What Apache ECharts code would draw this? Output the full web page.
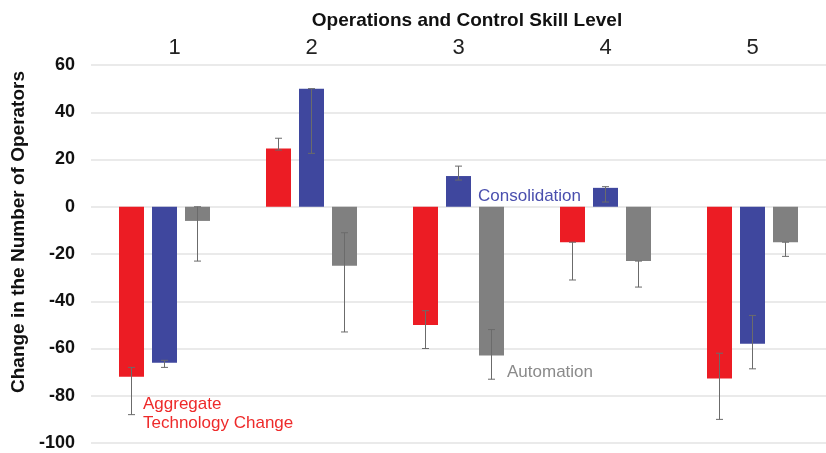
<!DOCTYPE html>
<html>
<head>
<meta charset="utf-8">
<script src="https://cdn.jsdelivr.net/npm/echarts@6/dist/echarts.min.js"></script>
<style>
  html, body { margin: 0; padding: 0; background: #fff; }
  #chart { width: 826px; height: 453px; }
</style>
</head>
<body>
<div id="chart"></div>
<script>
// skill levels and the three kinds of change
const categories = ["1", "2", "3", "4", "5"];
const aggregate = [-72, 24.7, -50, -15, -72.7];
const consolidation = [-66, 50, 13, 8, -58];
const automation = [-6, -25, -63, -23, -15];

// error bar ranges (low, high)
const aggregateLow = [-88, 24, -60, -31, -90];
const aggregateHigh = [-68, 29, -44, -15, -62];
const consolidationLow = [-68, 22.6, 11.3, 2, -68.6];
const consolidationHigh = [-65, 50, 17.2, 8.5, -46];
const automationLow = [-23, -53, -73, -34, -21];
const automationHigh = [0, -11, -52, -23, -15];

const BAR_W = 25;
const BAR_GAP = 8;
const FONT = "Liberation Sans, Arial, sans-serif";

function errorSeries(low, high, slot) {
    return {
        type: "custom",
        z: 5,
        encode: { x: 0, y: [1, 2] },
        data: low.map((v, i) => [i, v, high[i]]),
        renderItem(params, api) {
            const offset = (slot - 1) * (BAR_W + BAR_GAP);
            const x = api.coord([api.value(0), 0])[0] + offset;
            const y1 = api.coord([api.value(0), api.value(1)])[1];
            const y2 = api.coord([api.value(0), api.value(2)])[1];
            const style = { stroke: "#6b6b6b", lineWidth: 1 };
            return {
                type: "group",
                children: [
                    { type: "line", shape: { x1: x, y1: y1, x2: x, y2: y2 }, style },
                    { type: "line", shape: { x1: x - 3.5, y1: y1, x2: x + 3.5, y2: y1 }, style },
                    { type: "line", shape: { x1: x - 3.5, y1: y2, x2: x + 3.5, y2: y2 }, style },
                ],
            };
        },
    };
}

const chart = echarts.init(document.getElementById("chart"));
const option = {
    animation: false,
    textStyle: { fontFamily: FONT },
    title: {
        text: "Operations and Control Skill Level",
        left: 462,
        top: 6,
        textAlign: "center",
        textStyle: { fontFamily: FONT, fontSize: 19, fontWeight: "bold", color: "#111" },
    },
    grid: { left: 91, top: 65, width: 743, bottom: 10, containLabel: false },
    xAxis: {
        type: "category",
        position: "top",
        data: categories,
        axisLine: { show: false },
        axisTick: { show: false },
        axisLabel: {
            margin: 6,
            fontSize: 22,
            color: "#222",
            formatter(v) {
                return v === "1" ? "{a|" + v + "}" : v;
            },
            rich: { a: { fontSize: 22, color: "#222", padding: [0, 0, 0, 20] } },
        },
    },
    yAxis: {
        type: "value",
        min: -100,
        max: 60,
        interval: 20,
        name: "Change in the Number of Operators",
        nameLocation: "middle",
        nameGap: 62,
        nameTextStyle: { fontSize: 19, fontWeight: "bold", color: "#111", padding: [0, 0, 0, 44] },
        axisLine: { show: false },
        axisTick: { show: false },
        axisLabel: { margin: 16, fontSize: 18, fontWeight: "bold", color: "#111" },
        splitLine: { lineStyle: { color: "#e3e3e3", width: 1.5 } },
    },
    series: [
        {
            name: "Aggregate Technology Change",
            type: "bar",
            data: aggregate,
            barWidth: BAR_W,
            barGap: (BAR_GAP / BAR_W * 100) + "%",
            itemStyle: { color: "#ec1c24" },
        },
        {
            name: "Consolidation",
            type: "bar",
            data: consolidation,
            barWidth: BAR_W,
            barGap: (BAR_GAP / BAR_W * 100) + "%",
            itemStyle: { color: "#3f479e" },
        },
        {
            name: "Automation",
            type: "bar",
            data: automation,
            barWidth: BAR_W,
            barGap: (BAR_GAP / BAR_W * 100) + "%",
            itemStyle: { color: "#808080" },
        },
        errorSeries(aggregateLow, aggregateHigh, 0),
        errorSeries(consolidationLow, consolidationHigh, 1),
        errorSeries(automationLow, automationHigh, 2),
    ],
    graphic: [
        {
            type: "text",
            left: 478,
            top: 188,
            style: { text: "Consolidation", fill: "#4a4fae", font: "17px " + FONT },
        },
        {
            type: "text",
            left: 507,
            top: 364,
            style: { text: "Automation", fill: "#8a8a8a", font: "17px " + FONT },
        },
        {
            type: "text",
            left: 143,
            top: 395,
            style: {
                text: "Aggregate\nTechnology Change",
                fill: "#ee2a2a",
                font: "17px " + FONT,
                lineHeight: 19,
            },
        },
    ],
};
chart.setOption(option);
</script>
</body>
</html>
